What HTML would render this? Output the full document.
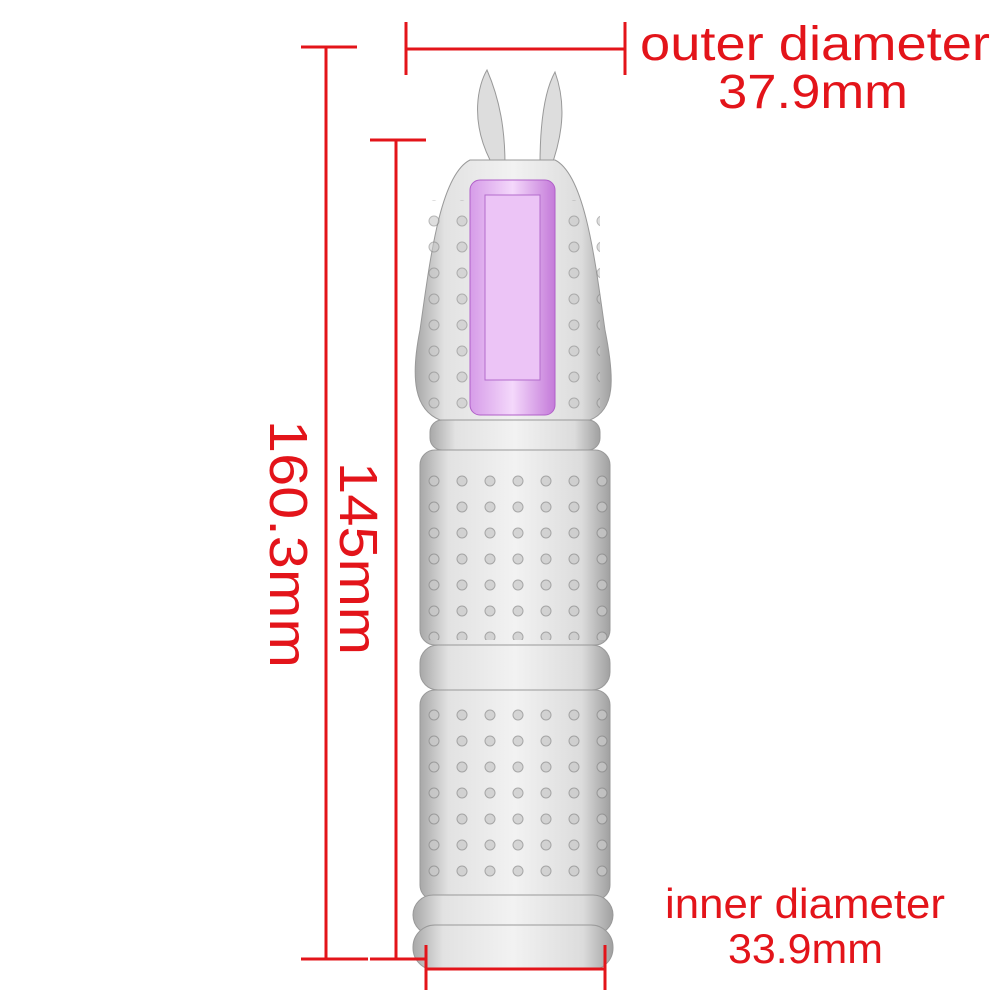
<!DOCTYPE html>
<html><head><style>
body{margin:0;background:#fff;}
svg{display:block}
text{font-family:"Liberation Sans",sans-serif;fill:#e3141a}
</style></head><body>
<svg width="1000" height="1000" viewBox="0 0 1000 1000">
<defs>
<linearGradient id="g" x1="0" x2="1">
<stop offset="0" stop-color="#a8a8a8"/><stop offset=".15" stop-color="#e2e2e2"/><stop offset=".5" stop-color="#f2f2f2"/><stop offset=".85" stop-color="#dcdcdc"/><stop offset="1" stop-color="#a0a0a0"/>
</linearGradient>
<linearGradient id="p" x1="0" x2="1">
<stop offset="0" stop-color="#d69ce8"/><stop offset=".5" stop-color="#f4d8fb"/><stop offset="1" stop-color="#c47ad9"/>
</linearGradient>
<pattern id="dots" width="28" height="26" patternUnits="userSpaceOnUse">
<circle cx="14" cy="13" r="5" fill="#c8c8c8" stroke="#888" stroke-width="1"/>
</pattern>
</defs>
<path d="M490 160 C470 120 478 85 487 70 C500 100 505 130 505 165Z" fill="#ddd" stroke="#999"/>
<path d="M540 165 C540 120 545 90 555 72 C565 100 565 130 550 170Z" fill="#ddd" stroke="#999"/>
<path d="M470 160 C440 175 430 260 420 330 C410 380 415 410 440 420 L590 420 C615 410 615 380 605 330 C595 260 585 175 555 160Z" fill="url(#g)" stroke="#999"/>
<rect x="425" y="200" width="175" height="210" fill="url(#dots)" opacity=".6"/>
<rect x="470" y="180" width="85" height="235" rx="10" fill="url(#p)" stroke="#b060c8"/>
<rect x="485" y="195" width="55" height="185" fill="#ecc4f6" stroke="#b36ccc"/>
<rect x="430" y="420" width="170" height="30" rx="12" fill="url(#g)" stroke="#999"/>
<rect x="420" y="450" width="190" height="195" rx="15" fill="url(#g)" stroke="#999"/>
<rect x="420" y="645" width="190" height="45" rx="18" fill="url(#g)" stroke="#999"/>
<rect x="420" y="690" width="190" height="210" rx="15" fill="url(#g)" stroke="#999"/>
<rect x="412" y="470" width="205" height="170" fill="url(#dots)" opacity=".7"/>
<rect x="412" y="700" width="205" height="190" fill="url(#dots)" opacity=".7"/>
<rect x="413" y="895" width="200" height="40" rx="20" fill="url(#g)" stroke="#999"/>
<rect x="413" y="925" width="200" height="45" rx="22" fill="url(#g)" stroke="#999"/>
<g stroke="#e3141a" stroke-width="3" fill="none">
<path d="M301 47H357 M326 47V959 M301 959H368"/>
<path d="M370 140H426 M396 140V959 M370 959H425"/>
<path d="M406 22V75 M406 49H625 M625 22V75"/>
<path d="M426 945V990 M426 969H605 M605 945V990"/>
</g>
<text x="640" y="60" font-size="48" textLength="350" lengthAdjust="spacingAndGlyphs">outer diameter</text>
<text x="718" y="108" font-size="48" textLength="190" lengthAdjust="spacingAndGlyphs">37.9mm</text>
<text x="665" y="918" font-size="42" textLength="280" lengthAdjust="spacingAndGlyphs">inner diameter</text>
<text x="728" y="963" font-size="42" textLength="155" lengthAdjust="spacingAndGlyphs">33.9mm</text>
<text transform="translate(270,420) rotate(90)" font-size="54" textLength="248" lengthAdjust="spacingAndGlyphs">160.3mm</text>
<text transform="translate(340,462) rotate(90)" font-size="54" textLength="193" lengthAdjust="spacingAndGlyphs">145mm</text>
</svg>
</body></html>
